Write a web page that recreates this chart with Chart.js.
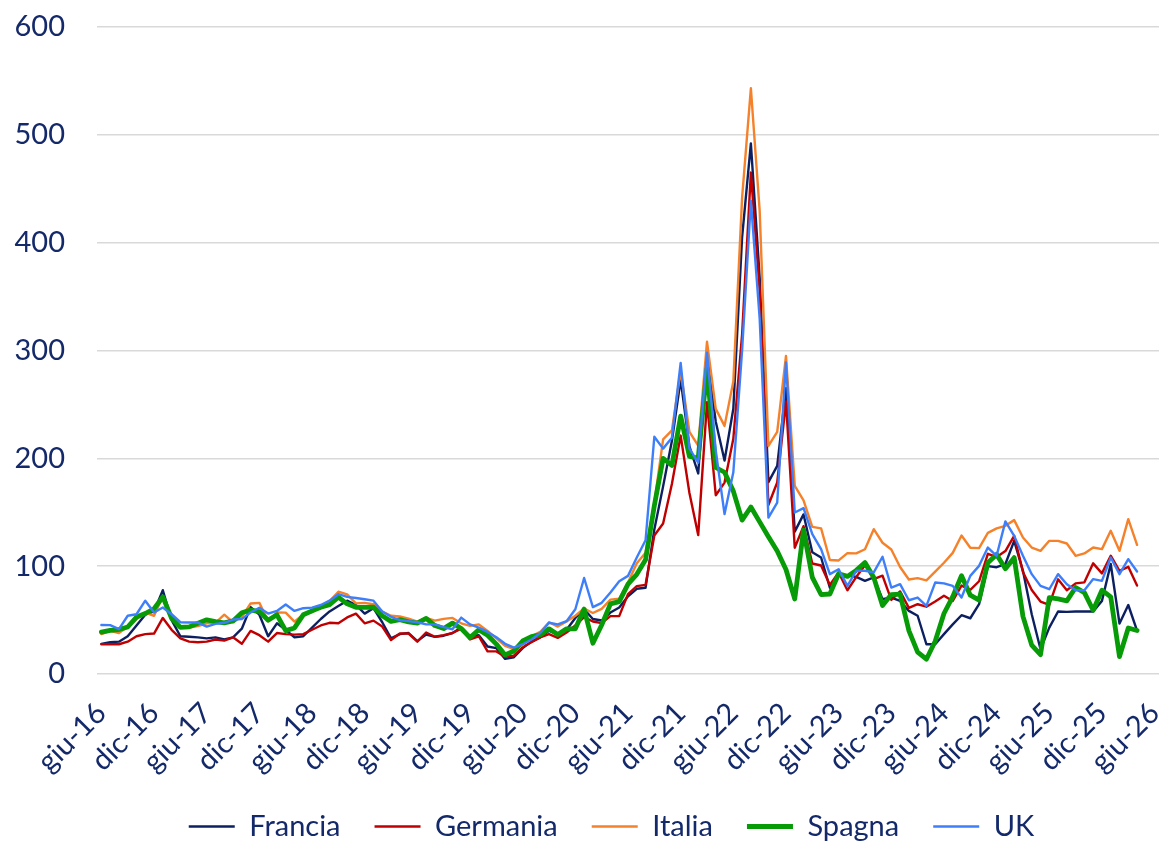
<!DOCTYPE html>
<html>
<head>
<meta charset="utf-8">
<script src="https://cdn.jsdelivr.net/npm/chart.js@4/dist/chart.umd.min.js"></script>
<style>
  html, body { margin: 0; padding: 0; background: #fff; }
  #wrap { width: 1166px; height: 842px; }
</style>
</head>
<body>
<div id="wrap"><canvas id="prezzi" width="1166" height="842"></canvas></div>
<script>
// categorie mensili: da giu-16 a giu-26 (i dati arrivano ad apr-26)
const categorie = [
  'giu-16','lug-16','ago-16','set-16','ott-16','nov-16','dic-16',
  'gen-17','feb-17','mar-17','apr-17','mag-17','giu-17','lug-17','ago-17','set-17','ott-17','nov-17','dic-17',
  'gen-18','feb-18','mar-18','apr-18','mag-18','giu-18','lug-18','ago-18','set-18','ott-18','nov-18','dic-18',
  'gen-19','feb-19','mar-19','apr-19','mag-19','giu-19','lug-19','ago-19','set-19','ott-19','nov-19','dic-19',
  'gen-20','feb-20','mar-20','apr-20','mag-20','giu-20','lug-20','ago-20','set-20','ott-20','nov-20','dic-20',
  'gen-21','feb-21','mar-21','apr-21','mag-21','giu-21','lug-21','ago-21','set-21','ott-21','nov-21','dic-21',
  'gen-22','feb-22','mar-22','apr-22','mag-22','giu-22','lug-22','ago-22','set-22','ott-22','nov-22','dic-22',
  'gen-23','feb-23','mar-23','apr-23','mag-23','giu-23','lug-23','ago-23','set-23','ott-23','nov-23','dic-23',
  'gen-24','feb-24','mar-24','apr-24','mag-24','giu-24','lug-24','ago-24','set-24','ott-24','nov-24','dic-24',
  'gen-25','feb-25','mar-25','apr-25','mag-25','giu-25','lug-25','ago-25','set-25','ott-25','nov-25','dic-25',
  'gen-26','feb-26','mar-26','apr-26','mag-26','giu-26'
];

const francia = [
  28, 29.5, 30, 35, 45, 55, 58, 77.7, 50, 35,
  34.5, 34, 33, 34, 32, 34, 42, 62, 55, 35,
  47, 41, 34, 35, 43, 51, 58, 63, 68, 64,
  56, 61, 48, 33, 37, 38, 30.5, 36.5, 34.5, 35.5,
  38, 43, 35, 36, 25.5, 24, 14, 15.5, 24, 30,
  34, 40, 37, 41, 52, 60, 51, 49.6, 57, 61.6,
  72, 79, 80, 134, 174, 216, 273, 211, 186, 296,
  234, 198, 246, 405, 492, 368, 178, 193, 265, 132,
  148, 113, 108, 80, 92.6, 91.5, 90, 86.4, 89.5, 69.4,
  70.9, 67.8, 58.5, 54, 27.6, 27.6, 37, 46, 54.5, 51.7,
  64.7, 100, 99, 102, 123.5, 95.7, 55.4, 22.9, 43, 58,
  57.6, 58, 58, 58, 67.8, 102, 46.8, 64, 40.3
];

const germania = [
  27.6, 27.6, 27.6, 30, 35, 37, 37.5, 52, 41, 33,
  30, 29.5, 30, 32, 31, 34, 28, 40, 36, 30,
  38, 37, 36.5, 37, 41, 45, 47.5, 47, 52.5, 56,
  47, 49.5, 44, 31.5, 37.5, 37.5, 30, 38.5, 34.5, 36,
  38, 42, 32, 35, 21, 21, 16, 17, 25, 29.5,
  34, 37, 33.5, 38.5, 45, 52.8, 48.7, 47.2, 53.7, 53.7,
  74.1, 81.5, 82.7, 128.4, 139.5, 176.2, 221.1, 167.9, 128.8, 252,
  165.8, 177.5, 218.1, 315, 465, 356, 156.7, 177.6, 252.7, 117.1,
  137.1, 102.5, 100.6, 82.6, 94.2, 77.7, 89.9, 100.9, 87.9, 91.2,
  68.7, 76.6, 61.3, 64.7, 62.4, 67.3, 72.6, 67.7, 82, 78.1,
  86, 111.5, 108.5, 114, 128.1, 94.6, 77.9, 67.2, 64.1, 87.8,
  77.7, 84, 85, 102.6, 93.3, 109.7, 95.7, 99.4, 82
];

const italia = [
  37, 40, 38, 44, 51, 57, 54, 72, 53, 43,
  43, 44.5, 47, 47.5, 55, 48, 53, 65.4, 66, 49,
  57, 56.9, 48.6, 55.2, 57.3, 62.7, 67.7, 76.3, 73.9, 65.5,
  66, 64.7, 58, 54, 53.4, 51.3, 48.6, 52.1, 49.5, 51.1,
  52, 47, 44.6, 46, 40, 33, 26, 23, 27, 35,
  39, 48, 44, 48.8, 54, 60.7, 56.6, 60.4, 69, 69.9,
  84.8, 102.7, 112.4, 158.6, 217.6, 225.9, 281.2, 224.5, 211.7, 308.1,
  245.9, 230.1, 271.3, 441.7, 543.2, 429.9, 211.5, 224.5, 294.9, 174.5,
  161.1, 136.4, 135, 105.7, 105.3, 112.1, 111.9, 115.7, 134.3, 121.7,
  115.5, 99.2, 87.6, 88.9, 86.8, 94.9, 103.2, 112.3, 128.4, 117.1,
  116.7, 130.9, 135, 137.4, 142.7, 126.6, 117.3, 114.2, 123.5, 123.5,
  121, 109.6, 111.8, 117.3, 115.8, 132.8, 114.2, 143.6, 119.8
];

const spagna = [
  38.9, 40.5, 41.2, 43.6, 52.8, 56.1, 60.5, 71.5, 51.7, 43.2,
  43.7, 47.1, 50.2, 48.6, 47.5, 49.2, 56.8, 59.2, 57.9, 49.9,
  54.9, 40.2, 42.7, 54.9, 58.5, 61.9, 64.3, 71.3, 65.1, 61.9,
  61.8, 62, 54, 48.8, 50.4, 48.4, 47.2, 51.5, 44.9, 42.1,
  47.2, 42.2, 33.8, 41.1, 35.9, 27.7, 17.7, 21.3, 30.6, 34.6,
  36.2, 41.9, 36.6, 41.9, 41.9, 60.2, 28.5, 45.4, 65, 67.1,
  83.3, 92.4, 105.9, 156.1, 199.9, 193.4, 239.2, 201.7, 200.2, 283.3,
  191.5, 187.1, 169.6, 142.7, 154.9, 141.1, 127.3, 114.1, 96.9, 69.6,
  133.5, 89.6, 73.7, 74.2, 93, 90.5, 96.1, 103.4, 89.6, 63.6,
  73.7, 74.1, 40.3, 20.3, 13.7, 30.4, 56.1, 71.7, 91.1, 73.1,
  68.6, 103.1, 110.9, 97.6, 107.9, 53.4, 26.8, 17.9, 70.8, 69.6,
  67.8, 80.2, 75.5, 59.1, 77.7, 71.5, 16.1, 42.7, 40.3
];

const uk = [
  45.5, 45.3, 41.6, 54, 55.4, 68, 57, 61.6, 55.4, 48,
  47.7, 47.7, 44, 46.5, 47.5, 50.5, 51, 57, 61.5, 56,
  58.5, 64.5, 58.5, 61, 61.6, 64, 68, 74, 71.5, 70.5,
  69.3, 68, 58, 53, 50, 49, 48, 46, 46, 43.5,
  41.5, 52.3, 46, 43, 39, 34, 28, 24.5, 27.6, 32,
  38, 47.5, 46, 49, 60, 89, 62, 66, 75.5, 86,
  91, 108, 124, 220, 209, 219, 288.5, 209, 196, 298,
  207, 148.3, 187, 300, 439, 330, 145, 159, 289, 149.8,
  153.8, 129.7, 115.8, 92.6, 97.2, 81.7, 95.7, 95.7, 94.2, 108.7,
  80.2, 83.3, 68.4, 70.9, 63.2, 84.8, 84, 81.7, 70.9, 91,
  100.3, 117.3, 109.6, 141.5, 128.1, 109.6, 92.6, 81.7, 78.6, 92.6,
  83.3, 77.7, 77.7, 88, 86.4, 108, 92.6, 106.5, 95
];

const fontFamily = 'Lato, "Open Sans", sans-serif';
const textColor = '#14296a';

// serie: l'ultima (UK) va disegnata sopra le altre, come nell'originale
function serie(label, data, color, width, order) {
  return {
    label: label,
    data: data,
    borderColor: color,
    backgroundColor: color,
    borderWidth: width,
    pointRadius: 0,
    tension: 0,
    fill: false,
    order: order
  };
}

// sposta la legenda: centrata tra x=64 e il bordo destro dell'area grafico
const spostaLegenda = {
  id: 'spostaLegenda',
  afterLayout(chart) {
    chart.legend.left = 64;
  }
};

const ctx = document.getElementById('prezzi').getContext('2d');
window.myChart = new Chart(ctx, {
  type: 'line',
  data: {
    labels: categorie,
    datasets: [
      serie('Francia', francia, '#0c2061', 2.4, 5),
      serie('Germania', germania, '#c00000', 2.4, 4),
      serie('Italia', italia, '#f5822a', 2.4, 3),
      serie('Spagna', spagna, '#079b07', 4.8, 2),
      serie('UK', uk, '#3d7ffa', 2.4, 1)
    ]
  },
  plugins: [spostaLegenda],
  options: {
    responsive: false,
    animation: false,
    layout: { padding: { top: 27, right: 7, left: 0, bottom: -9 } },
    elements: { line: { borderJoinStyle: 'round', borderCapStyle: 'round' } },
    plugins: {
      tooltip: { enabled: false },
      legend: {
        position: 'bottom',
        labels: {
          usePointStyle: true,
          pointStyle: 'line',
          pointStyleWidth: 46,
          padding: 34,
          color: textColor,
          font: { family: fontFamily, size: 29 },
          sort: (a, b) => a.datasetIndex - b.datasetIndex
        }
      }
    },
    scales: {
      x: {
        type: 'category',
        offset: true,
        grid: { display: false },
        border: { display: false },
        afterBuildTicks: (scale) => {
          // etichetta ogni 6 mesi
          scale.ticks = scale.ticks.filter(t => t.value % 6 === 0);
        },
        afterFit: (scale) => {
          scale.height = 104;
          scale.paddingLeft = 0;
          scale.paddingRight = 0;
        },
        ticks: {
          autoSkip: false,
          minRotation: 45,
          maxRotation: 45,
          padding: 14,
          color: textColor,
          font: { family: fontFamily, size: 29 }
        }
      },
      y: {
        min: 0,
        max: 600,
        afterFit: (scale) => {
          scale.width = 97;
          scale.paddingTop = 0;
          scale.paddingBottom = 0;
        },
        border: { display: false },
        grid: { color: '#d9d9d9', lineWidth: 1.6, drawTicks: false },
        ticks: {
          stepSize: 100,
          padding: 32,
          color: textColor,
          font: { family: fontFamily, size: 29 }
        }
      }
    }
  }
});
</script>
</body>
</html>
